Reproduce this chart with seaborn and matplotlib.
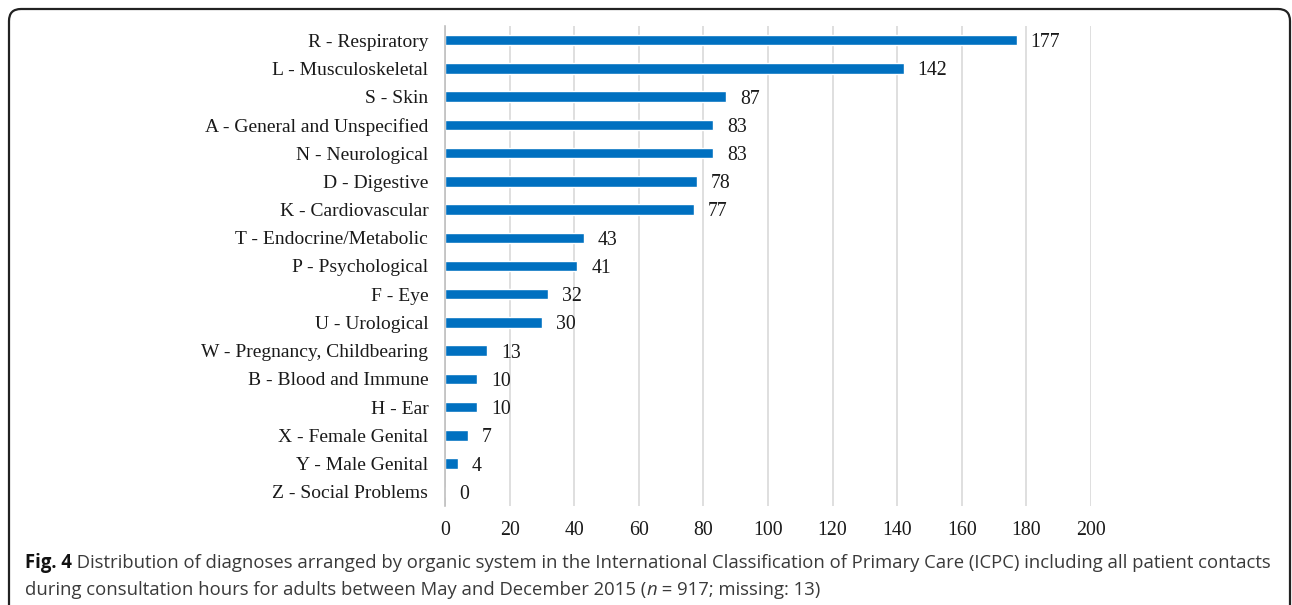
import matplotlib
matplotlib.use("Agg")
import matplotlib.pyplot as plt
import matplotlib.transforms as mtransforms
import seaborn as sns
import pandas as pd
from matplotlib.patches import FancyBboxPatch

categories = [
    "R - Respiratory", "L - Musculoskeletal", "S - Skin",
    "A - General and Unspecified", "N - Neurological", "D - Digestive",
    "K - Cardiovascular", "T - Endocrine/Metabolic", "P - Psychological",
    "F - Eye", "U - Urological", "W - Pregnancy, Childbearing",
    "B - Blood and Immune", "H - Ear", "X - Female Genital",
    "Y - Male Genital", "Z - Social Problems",
]
counts = [177, 142, 87, 83, 83, 78, 77, 43, 41, 32, 30, 13, 10, 10, 7, 4, 0]
x_ticks = [0, 20, 40, 60, 80, 100, 120, 140, 160, 180, 200]

df = pd.DataFrame({"system": categories, "n": counts})

sns.set_style("white")
plt.rcParams["font.family"] = ["Liberation Serif", "DejaVu Serif"]

W, H = 1292, 605
fig = plt.figure(figsize=(W / 100, H / 100), dpi=100)
ax = fig.add_axes([445 / W, 1 - 506 / H, (1091 - 445) / W, (506 - 26) / H])

sns.barplot(data=df, x="n", y="system", orient="h", color="#0070C0",
            saturation=1, width=0.37, ax=ax)

ax.set_xlim(0, 200)
ax.set_ylim(len(categories) - 0.5, -0.5)
ax.set_xticks(x_ticks)
ax.set_xlabel("")
ax.set_ylabel("")
ax.grid(axis="x", color="#d9d9d9", linewidth=1.2)
ax.set_axisbelow(True)
for s in ["top", "right", "bottom"]:
    ax.spines[s].set_visible(False)
ax.spines["left"].set_color("#bfbfbf")
ax.spines["left"].set_linewidth(1.2)
ax.tick_params(axis="both", length=0, colors="#1a1a1a")
ax.tick_params(axis="x", pad=11, labelsize=14.3)
ax.tick_params(axis="y", pad=12, labelsize=14)

for i, v in enumerate(counts):
    ax.annotate(str(v), (v, i), xytext=(10, -5), textcoords="offset points",
                va="baseline", ha="left", fontsize=14.3, color="#1a1a1a",
                annotation_clip=False)

# rounded frame, open past the bottom edge (pixel coordinates)
frame = FancyBboxPatch((9, -40), 1290 - 9, (H - 9) + 40,
                       boxstyle="round,pad=0,rounding_size=12",
                       transform=mtransforms.IdentityTransform(), fill=False,
                       edgecolor="#222222", linewidth=1.6, clip_on=False)
fig.patches.append(frame)

# caption with mixed styles
cap_font = ["Open Sans", "DejaVu Sans"]
cap_size = 13.35
fig.canvas.draw()
renderer = fig.canvas.get_renderer()


def write_line(pieces, x0, y0):
    x = x0
    for txt, kw in pieces:
        opts = {"color": "#3a3a3a"}
        opts.update(kw)
        t = fig.text(x, y0, txt, fontsize=cap_size, family=cap_font,
                     va="baseline", ha="left", **opts)
        bb = t.get_window_extent(renderer=renderer)
        x = x + bb.width / W


write_line([("Fig. 4", {"fontweight": "bold", "color": "#111111"}),
            (" Distribution of diagnoses arranged by organic system in the International "
             "Classification of Primary Care (ICPC) including all patient contacts", {})],
           25 / W, 1 - 568 / H)
write_line([("during consultation hours for adults between May and December 2015 (", {}),
            ("n", {"style": "italic"}),
            (" = 917; missing: 13)", {})],
           25 / W, 1 - 595 / H)

fig.savefig("out.png", dpi=100)
